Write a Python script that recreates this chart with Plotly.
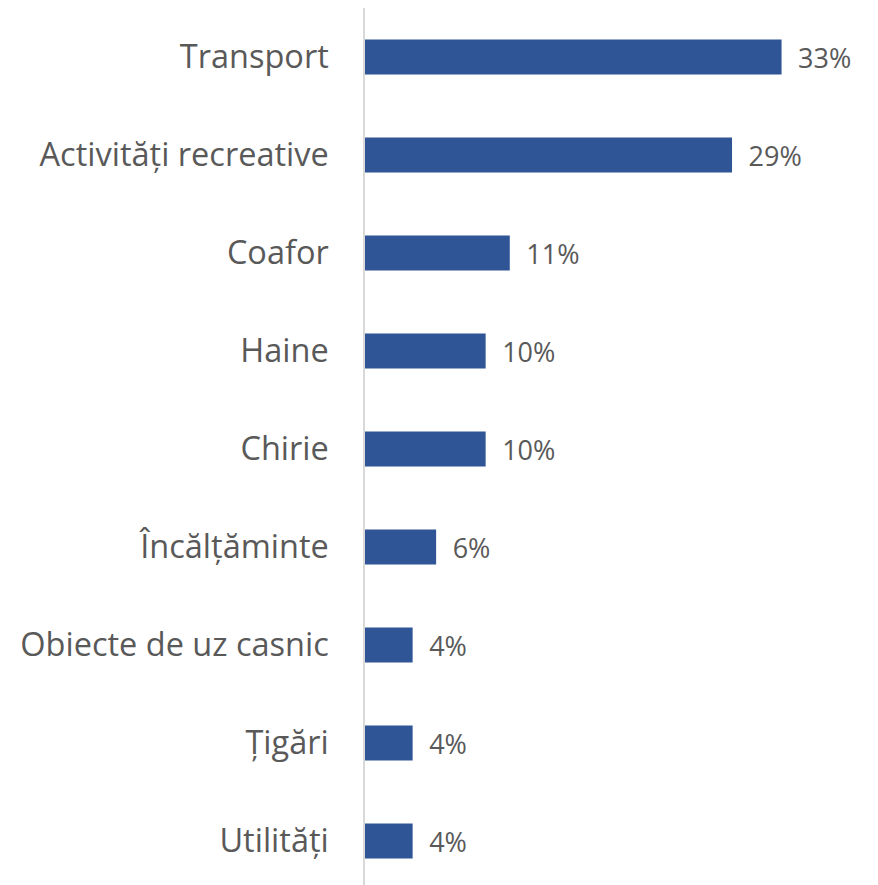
import plotly.graph_objects as go

categories = ["Transport", "Activități recreative", "Coafor", "Haine", "Chirie",
              "Încălțăminte", "Obiecte de uz casnic", "Țigări", "Utilități"]
values = [32.8, 28.9, 11.4, 9.5, 9.5, 5.6, 3.75, 3.75, 3.75]

fig = go.Figure(go.Bar(
    y=categories, x=values, orientation="h",
    marker=dict(color="#2F5597", line=dict(width=0)),
    texttemplate="\u2002%{x:.0f}%", textposition="outside",
    constraintext="none",
    textfont=dict(family="Open Sans", size=27, color="#595959"),
    cliponaxis=False,
))

fig.update_layout(
    width=870, height=877,
    margin=dict(l=357, r=0, t=0, b=0),
    plot_bgcolor="white", paper_bgcolor="white",
    bargap=0.643, showlegend=False,
    font=dict(family="Open Sans", color="#595959"),
)
fig.update_yaxes(
    type="category", range=[8.449, -0.5],
    showline=True, linecolor="#D9D9D9", linewidth=1.5,
    showgrid=False, zeroline=False, ticks="",
    tickfont=dict(family="Open Sans", size=32.5, color="#595959"),
    ticklabelstandoff=28,
)
fig.update_xaxes(range=[0, 513 / 12.7], visible=False, showgrid=False, zeroline=False)

fig.write_html("out.html")
